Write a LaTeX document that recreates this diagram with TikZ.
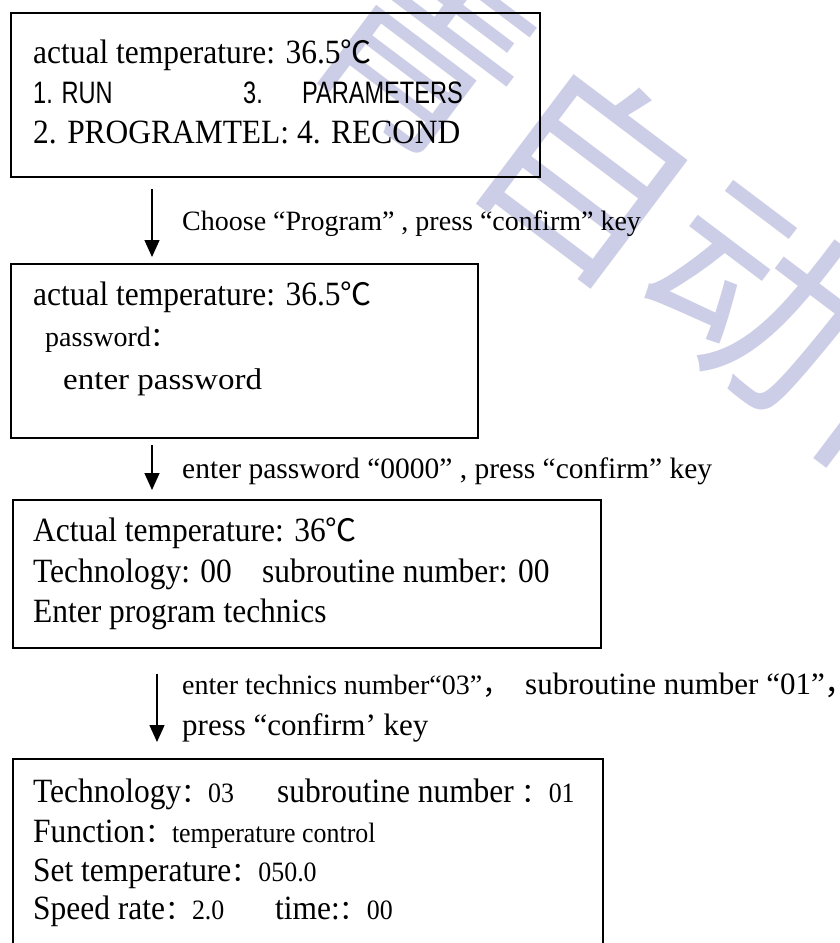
\documentclass[tikz,border=0pt]{standalone}
\usepackage{fontspec}
\setmainfont{Liberation Serif}
\newfontfamily\condserif[FakeStretch=0.925]{Liberation Serif}
\newfontfamily\wideserif[FakeStretch=1.1]{Liberation Serif}
\newfontfamily\cjk{Noto Sans CJK SC}
\newfontfamily\narrowsans[FakeStretch=0.76]{Liberation Sans}
\usetikzlibrary{arrows.meta}
\definecolor{wmcol}{RGB}{204,205,230}
\newcommand\smsz{\fontsize{28}{32}\selectfont}
\newcommand\fwcolon{{\cjk\fontsize{27}{30}\selectfont ：}}
\newcommand\degc{{\cjk\fontsize{31}{34}\selectfont ℃}}
\begin{document}
\begin{tikzpicture}[x=1pt,y=-1pt,
  box/.style={draw, line width=1.5pt, inner sep=0pt, anchor=north west},
  arr/.style={line width=1.4pt, -{Triangle[width=15pt,length=17pt]}},
  ta/.style={anchor=base west, inner sep=0pt, font=\condserif\fontsize{34}{40}\selectfont},
  tb/.style={anchor=base west, inner sep=0pt, font=\fontsize{28}{32}\selectfont},
  tc/.style={anchor=base west, inner sep=0pt, font=\wideserif\fontsize{30}{34}\selectfont},
  tl/.style={anchor=base west, inner sep=0pt, font=\fontsize{28}{32}\selectfont},
  tl2/.style={anchor=base west, inner sep=0pt, font=\fontsize{29.5}{34}\selectfont},
  tm/.style={anchor=base west, inner sep=0pt, font=\fontsize{31}{36}\selectfont},
  ts/.style={anchor=base west, inner sep=0pt, font=\narrowsans\fontsize{31}{36}\selectfont},
  wmark/.style={inner sep=0pt, text=wmcol, rotate=-37, font=\cjk\fontsize{207}{207}\selectfont},
]
\fill[white] (0,0) rectangle (839,943);
\useasboundingbox (0,0) rectangle (839,943);
\clip (0,0) rectangle (839,943);

% watermark
\node[wmark] (wm) at (672,232) {青自动化};

% boxes
\node[box, minimum width=529pt, minimum height=164pt] (b1) at (10,12) {};
\node[box, minimum width=467pt, minimum height=174pt] (b2) at (10,263) {};
\node[box, minimum width=588pt, minimum height=148pt] (b3) at (12,499) {};
\node[box, minimum width=590pt, minimum height=260pt] (b4) at (12,758) {};

% box 1
\node[ta] (b1l1) at (33,63) {actual temperature: 36.5\degc};
\node[ts] (b1l2a) at (33,103) {1. RUN};
\node[ts] (b1l2b) at (243,103) {3.};
\node[ts] (b1l2c) at (302,103) {PARAMETERS};
\node[ta] (b1l3) at (33,143) {2. PROGRAMTEL: 4. RECOND};

% arrows
\coordinate (ax1) at (152,0);
\coordinate (ax3) at (157,0);
\draw[arr, shorten <=11pt, shorten >=6pt] (b1.south -| ax1) -- (b2.north -| ax1);
\draw[arr, shorten <=6pt, shorten >=9pt] (b2.south -| ax1) -- (b3.north -| ax1);
\draw[arr, shorten <=25pt, shorten >=16pt] (b3.south -| ax3) -- (b4.north -| ax3);

% label 1
\node[tl] (lab1) at (182,230) {Choose “Program” , press “confirm” key};

% box 2
\node[ta] (b2l1) at (33,305) {actual temperature: 36.5\degc};
\node[tb] (b2l2) at (45,346) {password\fwcolon};
\node[tc] (b2l3) at (63,389) {enter password};

% label 2
\node[tl2] (lab2) at (182,478) {enter password “0000” , press “confirm” key};

% box 3
\node[ta] (b3l1) at (33,541) {Actual temperature: 36\degc};
\node[ta] (b3l2a) at (33,582) {Technology: 00};
\node[ta] (b3l2b) at (262,582) {subroutine number: 00};
\node[ta] (b3l3) at (33,622) {Enter program technics};

% label 3
\node[tl] (lab3a) at (182,694) {enter technics number“03”{\cjk ，}};
\node[tm] (lab3b) at (525,694) {subroutine number “01”{\cjk ，}};
\node[tm] (lab3c) at (182,735) {press “confirm’ key};

% box 4
\node[ta] (b4l1a) at (33,802) {Technology\fwcolon{\smsz 03}};
\node[ta] (b4l1b) at (277,802) {subroutine number \fwcolon{\smsz 01}};
\node[ta] (b4l2) at (33,842) {Function\fwcolon{\smsz temperature control}};
\node[ta] (b4l3) at (33,881) {Set temperature\fwcolon{\smsz 050.0}};
\node[ta] (b4l4a) at (33,919) {Speed rate\fwcolon{\smsz 2.0}};
\node[ta] (b4l4b) at (275,919) {time:\fwcolon{\smsz 00}};
\end{tikzpicture}
\end{document}
